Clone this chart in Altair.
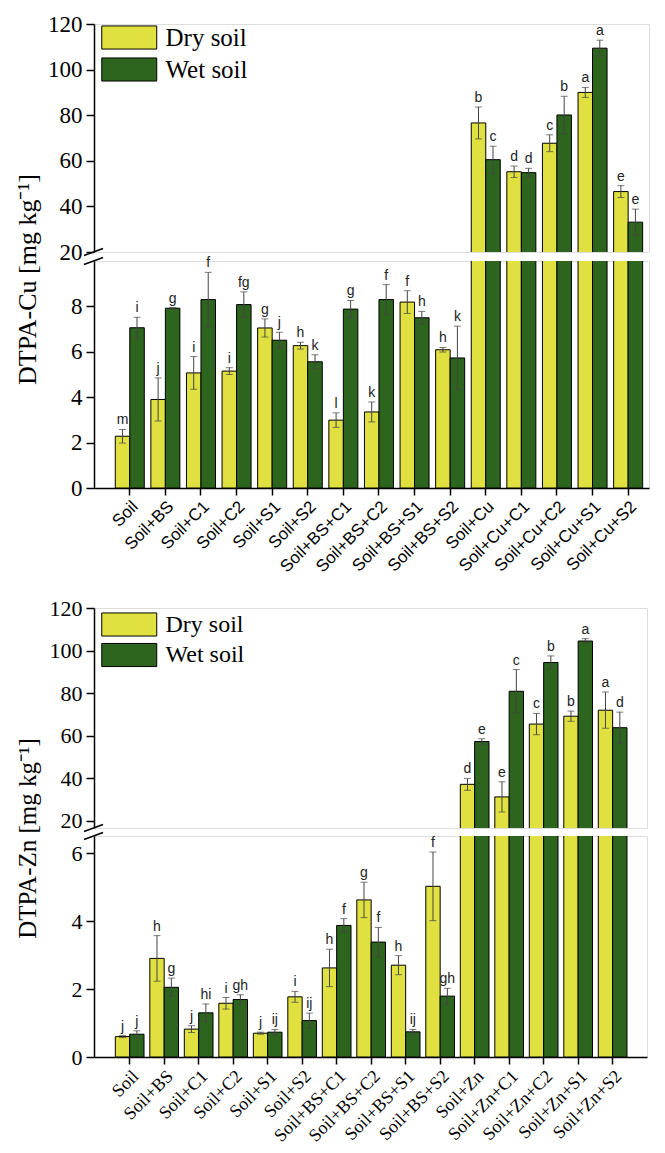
import altair as alt
import pandas as pd

# ---------------- data ----------------
cu_categories = ["Soil", "Soil+BS", "Soil+C1", "Soil+C2", "Soil+S1", "Soil+S2",
                 "Soil+BS+C1", "Soil+BS+C2", "Soil+BS+S1", "Soil+BS+S2",
                 "Soil+Cu", "Soil+Cu+C1", "Soil+Cu+C2", "Soil+Cu+S1", "Soil+Cu+S2"]
cu_dry = [2.28, 3.90, 5.07, 5.15, 7.05, 6.27, 2.99, 3.35, 8.19, 6.09, 76.6, 55.2, 67.7, 90.0, 46.5]
cu_dry_err = [0.30, 0.95, 0.72, 0.15, 0.40, 0.15, 0.32, 0.44, 0.50, 0.10, 7.0, 2.5, 3.7, 2.2, 2.6]
cu_wet = [7.06, 7.92, 8.30, 8.08, 6.51, 5.56, 7.88, 8.30, 7.50, 5.73, 60.5, 54.8, 80.1, 109.4, 33.1]
cu_wet_err = [0.46, 0.03, 1.20, 0.56, 0.35, 0.31, 0.38, 0.66, 0.28, 1.40, 5.9, 1.9, 8.2, 3.5, 5.7]
cu_dry_lab = ["m", "j", "i", "i", "g", "h", "l", "k", "f", "h", "b", "d", "c", "a", "e"]
cu_wet_lab = ["i", "g", "f", "fg", "j", "k", "g", "f", "h", "k", "c", "d", "b", "a", "e"]

zn_categories = ["Soil", "Soil+BS", "Soil+C1", "Soil+C2", "Soil+S1", "Soil+S2",
                 "Soil+BS+C1", "Soil+BS+C2", "Soil+BS+S1", "Soil+BS+S2",
                 "Soil+Zn", "Soil+Zn+C1", "Soil+Zn+C2", "Soil+Zn+S1", "Soil+Zn+S2"]
zn_dry = [0.60, 2.90, 0.82, 1.58, 0.70, 1.77, 2.62, 4.62, 2.70, 5.02, 37.2, 31.3, 65.5, 69.2, 72.0]
zn_dry_err = [0.03, 0.67, 0.10, 0.17, 0.03, 0.16, 0.55, 0.52, 0.28, 1.01, 2.8, 7.1, 5.0, 2.4, 8.5]
zn_wet = [0.67, 2.05, 1.30, 1.69, 0.73, 1.07, 3.87, 3.38, 0.74, 1.79, 57.3, 80.9, 94.4, 104.5, 63.8]
zn_wet_err = [0.10, 0.27, 0.26, 0.14, 0.08, 0.22, 0.20, 0.43, 0.07, 0.23, 1.3, 10.2, 3.1, 1.1, 7.3]
zn_dry_lab = ["j", "h", "j", "i", "j", "i", "h", "g", "h", "f", "d", "e", "c", "b", "a"]
zn_wet_lab = ["j", "g", "hi", "gh", "ij", "ij", "f", "f", "ij", "gh", "e", "c", "b", "a", "d"]

series_names = ["Dry soil", "Wet soil"]
series_colors = ["#e0e040", "#2d641e"]

SERIF = "Liberation Serif"
SANS = "Liberation Sans"
LEGEND_PATH = "M-2,-0.84L2,-0.84L2,0.84L-2,0.84Z"


def long_df(cats, dry, dry_err, wet, wet_err, dry_lab, wet_lab):
    rows = []
    for i, c in enumerate(cats):
        rows.append(dict(cat=c, soil=series_names[0], val=dry[i], lo=dry[i] - dry_err[i],
                         hi=dry[i] + dry_err[i], lab=dry_lab[i]))
        rows.append(dict(cat=c, soil=series_names[1], val=wet[i], lo=wet[i] - wet_err[i],
                         hi=wet[i] + wet_err[i], lab=wet_lab[i]))
    return pd.DataFrame(rows)


def segment(df, cats, xscale_kw, ydom, yticks, height, width, xaxis, ytitle, legend, upper,
            ylabsize):
    if upper:
        d = df[df["val"] > ydom[0]]
        dm = d
    else:
        d = df
        dm = d[d["val"] < ydom[1]]

    yax = alt.Axis(values=yticks, grid=False, domainColor="black", domainWidth=1.5,
                   tickColor="black", tickWidth=1.5, tickSize=8, labelPadding=4,
                   labelFont=SERIF, labelFontSize=ylabsize, labelColor="black",
                   **(ytitle if ytitle else {}))
    ysc = alt.Scale(domain=ydom, nice=False, zero=False)
    ttl = ytitle.get("title") if ytitle else None

    x = alt.X("cat:N", sort=cats, scale=alt.Scale(domain=cats, **xscale_kw), axis=xaxis,
              title=None)
    xo = alt.XOffset("soil:N", sort=series_names,
                     scale=alt.Scale(domain=series_names, paddingInner=0, paddingOuter=0))

    fill = alt.Fill("soil:N", scale=alt.Scale(domain=series_names, range=series_colors),
                    legend=legend)

    bars = alt.Chart(d).mark_bar(stroke="black", strokeWidth=1, clip=True).encode(
        x=x, xOffset=xo, y=alt.Y("val:Q", scale=ysc, axis=yax, title=ttl), fill=fill)
    rule = alt.Chart(dm).mark_rule(color="#444", strokeWidth=1).encode(
        x=x, xOffset=xo, y=alt.Y("lo:Q", scale=ysc, axis=yax, title=ttl), y2="hi:Q")
    cap_hi = alt.Chart(dm).mark_tick(color="#444", thickness=1, size=7).encode(
        x=x, xOffset=xo, y=alt.Y("hi:Q", scale=ysc, axis=yax, title=ttl))
    cap_lo = alt.Chart(dm).mark_tick(color="#444", thickness=1, size=7).encode(
        x=x, xOffset=xo, y=alt.Y("lo:Q", scale=ysc, axis=yax, title=ttl))
    txt = alt.Chart(dm).mark_text(baseline="bottom", dy=-2, font=SANS, fontSize=14,
                                  color="#222").encode(
        x=x, xOffset=xo, y=alt.Y("hi:Q", scale=ysc, axis=yax, title=ttl), text="lab:N")
    if upper:
        yb1, yb2 = height + 3.5, height - 3.5
    else:
        yb1, yb2 = 3.5, -3.5
    brk = alt.Chart(pd.DataFrame({"k": [0]})).mark_rule(color="black", strokeWidth=1.5).encode(
        x=alt.value(-10), x2=alt.value(9), y=alt.value(yb1), y2=alt.value(yb2))
    return alt.layer(bars, rule, cap_hi, cap_lo, txt, brk).properties(width=width, height=height)


def panel(df, cats, width, xscale_kw, up_dom, up_h, lo_dom, lo_ticks, lo_h, gap, xfont, xsize,
          title, title_y, legend_y, legend_size, legend_rowpad, ylabsize, title_size):
    legend = alt.Legend(orient="none", legendX=20.75, legendY=legend_y, title=None,
                        symbolType=LEGEND_PATH, symbolSize=756, symbolStrokeColor="black",
                        symbolStrokeWidth=1, symbolOpacity=1, labelFont=SERIF,
                        labelFontSize=legend_size, labelColor="black", labelOffset=21.75,
                        rowPadding=legend_rowpad, padding=0, labelLimit=0)
    xaxis = alt.Axis(labelAngle=-45, labelAlign="right", labelBaseline="top", tickSize=7,
                     labelPadding=3, domainColor="black", domainWidth=1.5, tickColor="black",
                     tickWidth=1.5, labelFont=xfont, labelFontSize=xsize, labelColor="black",
                     title=None)
    ytitle = dict(title=title, titleX=-59, titleY=title_y, titleAngle=270, titleAlign="center",
                  titleBaseline="alphabetic", titleFont=SERIF, titleFontSize=title_size,
                  titleFontWeight="normal", titleColor="black")
    up = segment(df, cats, xscale_kw, up_dom, [20, 40, 60, 80, 100, 120], up_h, width, None,
                 None, legend, True, ylabsize)
    lo = segment(df, cats, xscale_kw, lo_dom, lo_ticks, lo_h, width, xaxis, ytitle, None, False,
                 ylabsize)
    return alt.vconcat(up, lo, spacing=gap, bounds="flush").resolve_scale(
        fill="independent", xOffset="independent")


cu_df = long_df(cu_categories, cu_dry, cu_dry_err, cu_wet, cu_wet_err, cu_dry_lab, cu_wet_lab)
zn_df = long_df(zn_categories, zn_dry, zn_dry_err, zn_wet, zn_wet_err, zn_dry_lab, zn_wet_lab)

p1 = panel(cu_df, cu_categories, 555,
           dict(paddingInner=0.185, paddingOuter=0.388, align=0.77),
           [20, 120], 228, [0, 10], [0, 2, 4, 6, 8], 227, 9, SANS, 17,
           "DTPA-Cu [mg kg\u207b\u00b9]", 18, -1, 25, 3, 23, 26)
p2 = panel(zn_df, zn_categories, 553,
           dict(paddingInner=0.168, paddingOuter=0.599, align=0.516),
           [16.7, 120], 220, [0, 6.5], [0, 2, 4, 6], 221, 8, SERIF, 18,
           "DTPA-Zn [mg kg\u207b\u00b9]", 2, 2, 24, 1.5, 22, 25)

chart = alt.vconcat(p1, p2, spacing=20).resolve_scale(
    fill="independent", xOffset="independent"
).properties(
    padding={"left": 5, "top": 4, "right": 0, "bottom": 0}
).configure_view(stroke=None).configure(background="white", font=SERIF).configure_axis(
    labelFont=SERIF
).configure_legend(labelFont=SERIF)

chart.save("out.html", embed_options={"renderer": "svg", "actions": False})
